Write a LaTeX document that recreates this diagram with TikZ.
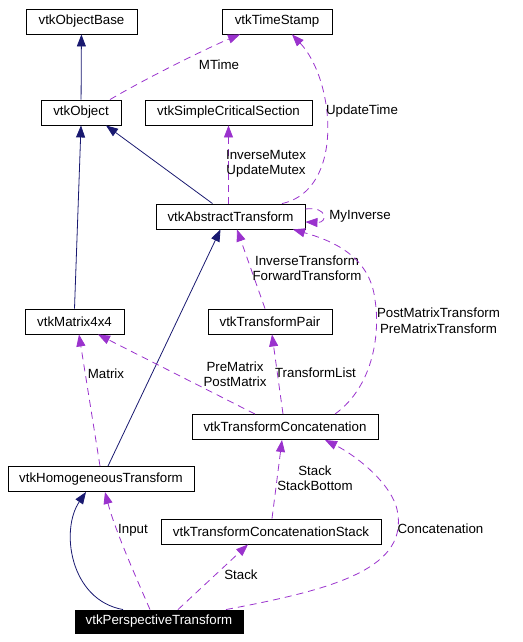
\documentclass[tikz,border=0pt]{standalone}
\usepackage{fontspec}
\setmainfont{Liberation Sans}
\usetikzlibrary{arrows.meta}
\definecolor{inherit}{RGB}{25,25,112}
\definecolor{usage}{RGB}{154,50,205}

\begin{document}
\begin{tikzpicture}[x=1pt,y=-1pt,
    font=\fontsize{13.3}{15.5}\selectfont,
    cls/.style={draw, line width=0.9pt, minimum height=25pt, inner sep=0pt},
    isa/.style={draw=inherit, line width=0.8pt, -{Triangle[length=12pt,width=9pt]}, color=inherit},
    uses/.style={draw=usage, line width=0.8pt, dash pattern=on 7pt off 5pt, -{Triangle[length=12pt,width=9pt]}, color=usage},
    lbl/.style={text=black, align=center, inner sep=0pt}]
      \useasboundingbox (0,0) rectangle (522,642);

      \node[cls, minimum width=111pt] (base) at (81.5,21.5) {vtkObjectBase};
      \node[cls, minimum width=110pt] (stamp) at (277,21.5) {vtkTimeStamp};
      \node[cls, minimum width=80pt] (obj) at (81,112.5) {vtkObject};
      \node[cls, minimum width=167pt] (crit) at (228.5,112.5) {vtkSimpleCriticalSection};
      \node[cls, minimum width=149pt] (abst) at (230.5,216.5) {vtkAbstractTransform};
      \node[cls, minimum width=99pt] (mat) at (74.5,321.5) {vtkMatrix4x4};
      \node[cls, minimum width=124pt] (pair) at (270,321.5) {vtkTransformPair};
      \node[cls, minimum width=186pt] (conc) at (285,427) {vtkTransformConcatenation};
      \node[cls, minimum width=186pt] (homog) at (101,479) {vtkHomogeneousTransform};
      \node[cls, minimum width=220pt] (stack) at (271,531.5) {vtkTransformConcatenationStack};
      \node[cls, minimum width=168pt, minimum height=23pt, fill=black, text=white] (persp) at (159,621.5) {vtkPerspectiveTransform};

      % inheritance
      \draw[isa] (obj) -- (base);
      \draw[isa] (mat.north) -- (obj.south);
      \draw[isa] ([xshift=-18pt]abst.north) -- ([xshift=25pt]obj.south);
      \draw[isa] ([xshift=7pt]homog.north) -- ([xshift=-10pt]abst.south);
      \draw[isa] ([xshift=-36pt]persp.north) .. controls (70,600) and (60,530) .. ([xshift=-15pt]homog.south);

      % members
      \draw[uses] ([xshift=29pt]obj.north) .. controls (150,76) and (212,46) .. ([xshift=-37pt]stamp.south)
        node[lbl] at (219,65) {MTime};
      \draw[uses] ([xshift=51.5pt]abst.north) .. controls (345,190) and (335,80) .. ([xshift=15pt]stamp.south)
        node[lbl] at (362,111) {UpdateTime};
      \draw[uses] (crit.south |- abst.north) -- (crit.south)
        node[lbl] at (266,164) {InverseMutex\\UpdateMutex};
      \draw[uses] ([yshift=7.5pt]abst.east) .. controls (328,206) and (328,223) .. ([yshift=-5.5pt]abst.east)
        node[lbl] at (360,216) {MyInverse};
      \draw[uses] ([xshift=-5pt]pair.north) -- ([xshift=6.5pt]abst.south)
        node[lbl] at (307,268) {InverseTransform\\ForwardTransform};
      \draw[uses] ([xshift=50pt]conc.north) .. controls (375,385) and (380,330) .. (375,300)
        .. controls (370,255) and (330,240) .. ([xshift=62.5pt]abst.south)
        node[lbl] at (438.5,320.5) {PostMatrixTransform\\PreMatrixTransform};
      \draw[uses] ([xshift=-30pt]conc.north) -- ([xshift=23.5pt]mat.south)
        node[lbl] at (235,374) {PreMatrix\\PostMatrix};
      \draw[uses] ([xshift=-2pt]conc.north) -- ([xshift=2pt]pair.south)
        node[lbl] at (315.5,373) {TransformList};
      \draw[uses] ([xshift=-1pt]homog.north) -- ([xshift=4.5pt]mat.south)
        node[lbl] at (106,374) {Matrix};
      \draw[uses] ([xshift=1pt]stack.north) -- ([xshift=-3pt]conc.south)
        node[lbl] at (315,478) {Stack\\StackBottom};
      \draw[uses] ([xshift=-9pt]persp.north) .. controls (135,575) and (115,530) .. ([xshift=4pt]homog.south)
        node[lbl] at (133,530) {Input};
      \draw[uses] ([xshift=19pt]persp.north) -- ([xshift=-23pt]stack.south)
        node[lbl] at (241,575) {Stack};
      \draw[uses] ([xshift=67pt]persp.north) .. controls (330,590) and (405,570) .. (398,515)
        .. controls (395,485) and (355,455) .. ([xshift=40pt]conc.south)
        node[lbl] at (440.5,529) {Concatenation};
    \end{tikzpicture}
\end{document}
